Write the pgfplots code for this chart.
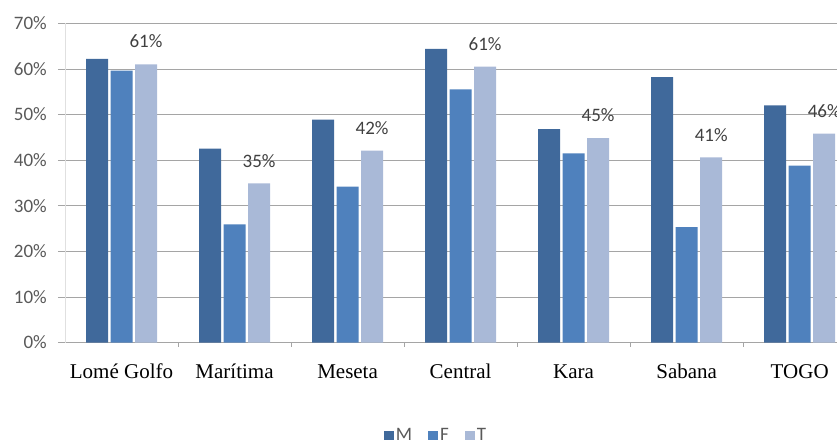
\documentclass[border=0pt]{standalone}
\usepackage{fontspec}
\setmainfont{Liberation Serif}
\newfontfamily\carlito{Carlito}
\usepackage{pgfplots}
\usepackage{pgfplotstable}
\pgfplotsset{compat=1.18}

\definecolor{cM}{RGB}{64,105,155}
\definecolor{cF}{RGB}{79,129,189}
\definecolor{cT}{RGB}{169,185,215}
\definecolor{gridc}{RGB}{165,165,165}
\definecolor{txt}{RGB}{89,89,89}
\definecolor{lab}{RGB}{64,64,64}

% share (%) by region: M, F, T
\pgfplotstableread{
x M F T lab
0 62.2 59.6 61.0 61
1 42.5 25.9 34.9 35
2 48.9 34.2 42.1 42
3 64.4 55.5 60.5 61
4 46.8 41.5 44.8 45
5 58.2 25.3 40.6 41
6 52.0 38.8 45.8 46
}\data

\begin{document}
\begin{tikzpicture}
\begin{axis}[
  scale only axis, width=772pt, height=319.2pt,
  ybar=2.5pt, bar width=22pt,
  xmin=-0.5, xmax=6.33, ymin=0, ymax=70,
  axis x line*=bottom, axis y line*=left,
  x axis line style={gridc, line width=0.8pt},
  y axis line style={black!12, line width=0.8pt},
  xtick=data,
  xticklabels={Lomé Golfo, Marítima, Meseta, Central, Kara, Sabana, TOGO},
  minor xtick={0.5,1.5,...,5.5},
  major x tick style={draw=none},
  minor x tick style={gridc, line width=0.8pt},
  minor tick length=4pt,
  ytick={0,10,...,70},
  yticklabels={0\%,10\%,20\%,30\%,40\%,50\%,60\%,70\%},
  major tick length=7pt, tick align=outside,
  ytick style={gridc, line width=0.8pt},
  ymajorgrids, grid style={gridc, line width=0.8pt},
  xticklabel style={font=\fontsize{21}{24}\selectfont, text=black, anchor=base, inner sep=0pt, yshift=-29.2pt},
  yticklabel style={font=\carlito\fontsize{19}{20}\selectfont, text=txt, anchor=east, inner sep=0pt, xshift=-11pt},
  legend style={at={(0.4806,0)}, anchor=north, yshift=-82pt, draw=none, fill=none,
    font=\carlito\fontsize{19}{20}\selectfont, text=txt,
    /tikz/every even column/.append style={column sep=14pt}},
  legend columns=3,
  legend image code/.code={\fill[#1] (0pt,-6pt) rectangle (10pt,5pt);},
]
\addplot[fill=cM, draw=none] table[x=x, y=M]{\data};
\addplot[fill=cF, draw=none] table[x=x, y=F]{\data};
\addplot[fill=cT, draw=none, point meta=explicit symbolic,
  nodes near coords={\pgfplotspointmeta\%},
  every node near coord/.append style={font=\carlito\fontsize{19}{20}\selectfont, text=lab, inner sep=0pt, anchor=south, yshift=16pt}]
  table[x=x, y=T, meta=lab]{\data};
\legend{M, F, T}
\end{axis}
\pgfresetboundingbox
\path (current axis.south west) +(-65pt,-96.5pt) (current axis.north east) +(0pt,23.3pt);
\end{tikzpicture}
\end{document}
